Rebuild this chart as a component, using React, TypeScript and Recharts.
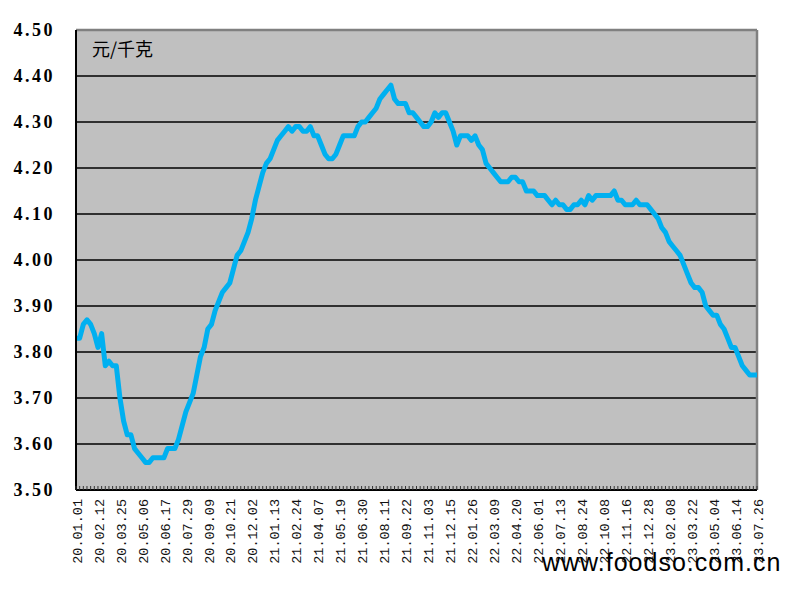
import {
  LineChart,
  Line,
  XAxis,
  YAxis,
  CartesianGrid,
  ReferenceLine,
} from "recharts";

// weekly price, 元/千克, 2020.01.01 - 2023.07.26
const PRICES = [
  3.83, 3.83, 3.86, 3.87, 3.86, 3.84, 3.81, 3.84, 3.77, 3.78,
  3.77, 3.77, 3.70, 3.65, 3.62, 3.62, 3.59, 3.58, 3.57, 3.56,
  3.56, 3.57, 3.57, 3.57, 3.57, 3.59, 3.59, 3.59, 3.61, 3.64,
  3.67, 3.69, 3.71, 3.75, 3.79, 3.81, 3.85, 3.86, 3.89, 3.91,
  3.93, 3.94, 3.95, 3.98, 4.01, 4.02, 4.04, 4.06, 4.09, 4.13,
  4.16, 4.19, 4.21, 4.22, 4.24, 4.26, 4.27, 4.28, 4.29, 4.28,
  4.29, 4.29, 4.28, 4.28, 4.29, 4.27, 4.27, 4.25, 4.23, 4.22,
  4.22, 4.23, 4.25, 4.27, 4.27, 4.27, 4.27, 4.29, 4.30, 4.30,
  4.31, 4.32, 4.33, 4.35, 4.36, 4.37, 4.38, 4.35, 4.34, 4.34,
  4.34, 4.32, 4.32, 4.31, 4.30, 4.29, 4.29, 4.30, 4.32, 4.31,
  4.32, 4.32, 4.30, 4.28, 4.25, 4.27, 4.27, 4.27, 4.26, 4.27,
  4.25, 4.24, 4.21, 4.20, 4.19, 4.18, 4.17, 4.17, 4.17, 4.18,
  4.18, 4.17, 4.17, 4.15, 4.15, 4.15, 4.14, 4.14, 4.14, 4.13,
  4.12, 4.13, 4.12, 4.12, 4.11, 4.11, 4.12, 4.12, 4.13, 4.12,
  4.14, 4.13, 4.14, 4.14, 4.14, 4.14, 4.14, 4.15, 4.13, 4.13,
  4.12, 4.12, 4.12, 4.13, 4.12, 4.12, 4.12, 4.11, 4.10, 4.09,
  4.07, 4.06, 4.04, 4.03, 4.02, 4.01, 3.99, 3.97, 3.95, 3.94,
  3.94, 3.93, 3.90, 3.89, 3.88, 3.88, 3.86, 3.85, 3.83, 3.81,
  3.81, 3.79, 3.77, 3.76, 3.75, 3.75, 3.75,
];

// date label under every 6th week
const TICK_LABELS = [
  "20.01.01", "20.02.12", "20.03.25", "20.05.06", "20.06.17", "20.07.29",
  "20.09.09", "20.10.21", "20.12.02", "21.01.13", "21.02.24", "21.04.07",
  "21.05.19", "21.06.30", "21.08.11", "21.09.22", "21.11.03", "21.12.15",
  "22.01.26", "22.03.09", "22.04.20", "22.06.01", "22.07.13", "22.08.24",
  "22.10.08", "22.11.16", "22.12.28", "23.02.08", "23.03.22", "23.05.04",
  "23.06.14", "23.07.26",
];

const Y_TICKS = [3.5, 3.6, 3.7, 3.8, 3.9, 4.0, 4.1, 4.2, 4.3, 4.4, 4.5];

const LABEL_EVERY = 6;

const data = PRICES.map((price, week) => ({ week, price }));
const weekTicks = PRICES.map((_p, i) => i);
const lastWeek = PRICES.length - 1;

// small tick pointing into the plot for every week, date text every 6th
function XTick(props: any) {
  const { x, y, payload } = props;
  const i = payload.value as number;
  const mark = <line x1={x} y1={y - 4} x2={x} y2={y} stroke="#333" strokeWidth={1} />;
  if (i % LABEL_EVERY !== 0) return <g>{mark}</g>;
  const label = TICK_LABELS[i / LABEL_EVERY];
  const ty = y + 9;
  return (
    <g>
      {mark}
      <text
        x={x + 1}
        y={ty}
        dy="0.35em"
        transform={`rotate(-90, ${x + 1}, ${ty})`}
        textAnchor="end"
        fontFamily="'Liberation Mono', monospace"
        fontSize={13.5}
        fill="#111"
      >
        {label}
      </text>
    </g>
  );
}

function YTick(props: any) {
  const { y, payload } = props;
  return (
    <text
      x={55}
      y={y}
      dy="0.35em"
      textAnchor="end"
      fontFamily="'Liberation Serif', serif"
      fontWeight="bold"
      fontSize={18}
      letterSpacing={2.5}
      fill="#000"
    >
      {(payload.value as number).toFixed(2)}
    </text>
  );
}

export default function App() {
  return (
    <div
      style={{
        position: "absolute",
        left: 0,
        top: 0,
        width: 789,
        height: 601,
        background: "#fff",
      }}
    >
      <LineChart
        width={789}
        height={601}
        data={data}
        margin={{ top: 30, right: 32, bottom: 0, left: 0 }}
      >
        <CartesianGrid
          vertical={false}
          stroke="#000"
          strokeWidth={1.5}
          fill="#C0C0C0"
          fillOpacity={1}
        />
        <XAxis
          dataKey="week"
          type="number"
          domain={[0, lastWeek]}
          ticks={weekTicks}
          interval={0}
          tickSize={0}
          tickMargin={0}
          tickLine={false}
          axisLine={{ stroke: "#000", strokeWidth: 2 }}
          height={111}
          tick={<XTick />}
        />
        <YAxis
          domain={[3.5, 4.5]}
          ticks={Y_TICKS}
          interval={0}
          width={76}
          tickLine={false}
          axisLine={{ stroke: "#000", strokeWidth: 2 }}
          tick={<YTick />}
        />
        <ReferenceLine y={4.5} stroke="#808080" strokeWidth={2.5} />
        <ReferenceLine x={lastWeek} stroke="#808080" strokeWidth={2.5} />
        <Line
          type="linear"
          dataKey="price"
          stroke="#00B0F0"
          strokeWidth={5}
          strokeLinejoin="round"
          dot={false}
          isAnimationActive={false}
        />
      </LineChart>
      <div
        style={{
          position: "absolute",
          left: 92,
          top: 35,
          fontFamily: "'Noto Sans CJK SC', sans-serif",
          fontSize: 18,
          color: "#000",
        }}
      >
        元/千克
      </div>
      <div
        style={{
          position: "absolute",
          left: 542,
          top: 548,
          fontFamily: "'Liberation Sans', Arial, sans-serif",
          fontSize: 25,
          letterSpacing: 1,
          color: "#000",
          whiteSpace: "nowrap",
        }}
      >
        www.foodso.com.cn
      </div>
    </div>
  );
}
